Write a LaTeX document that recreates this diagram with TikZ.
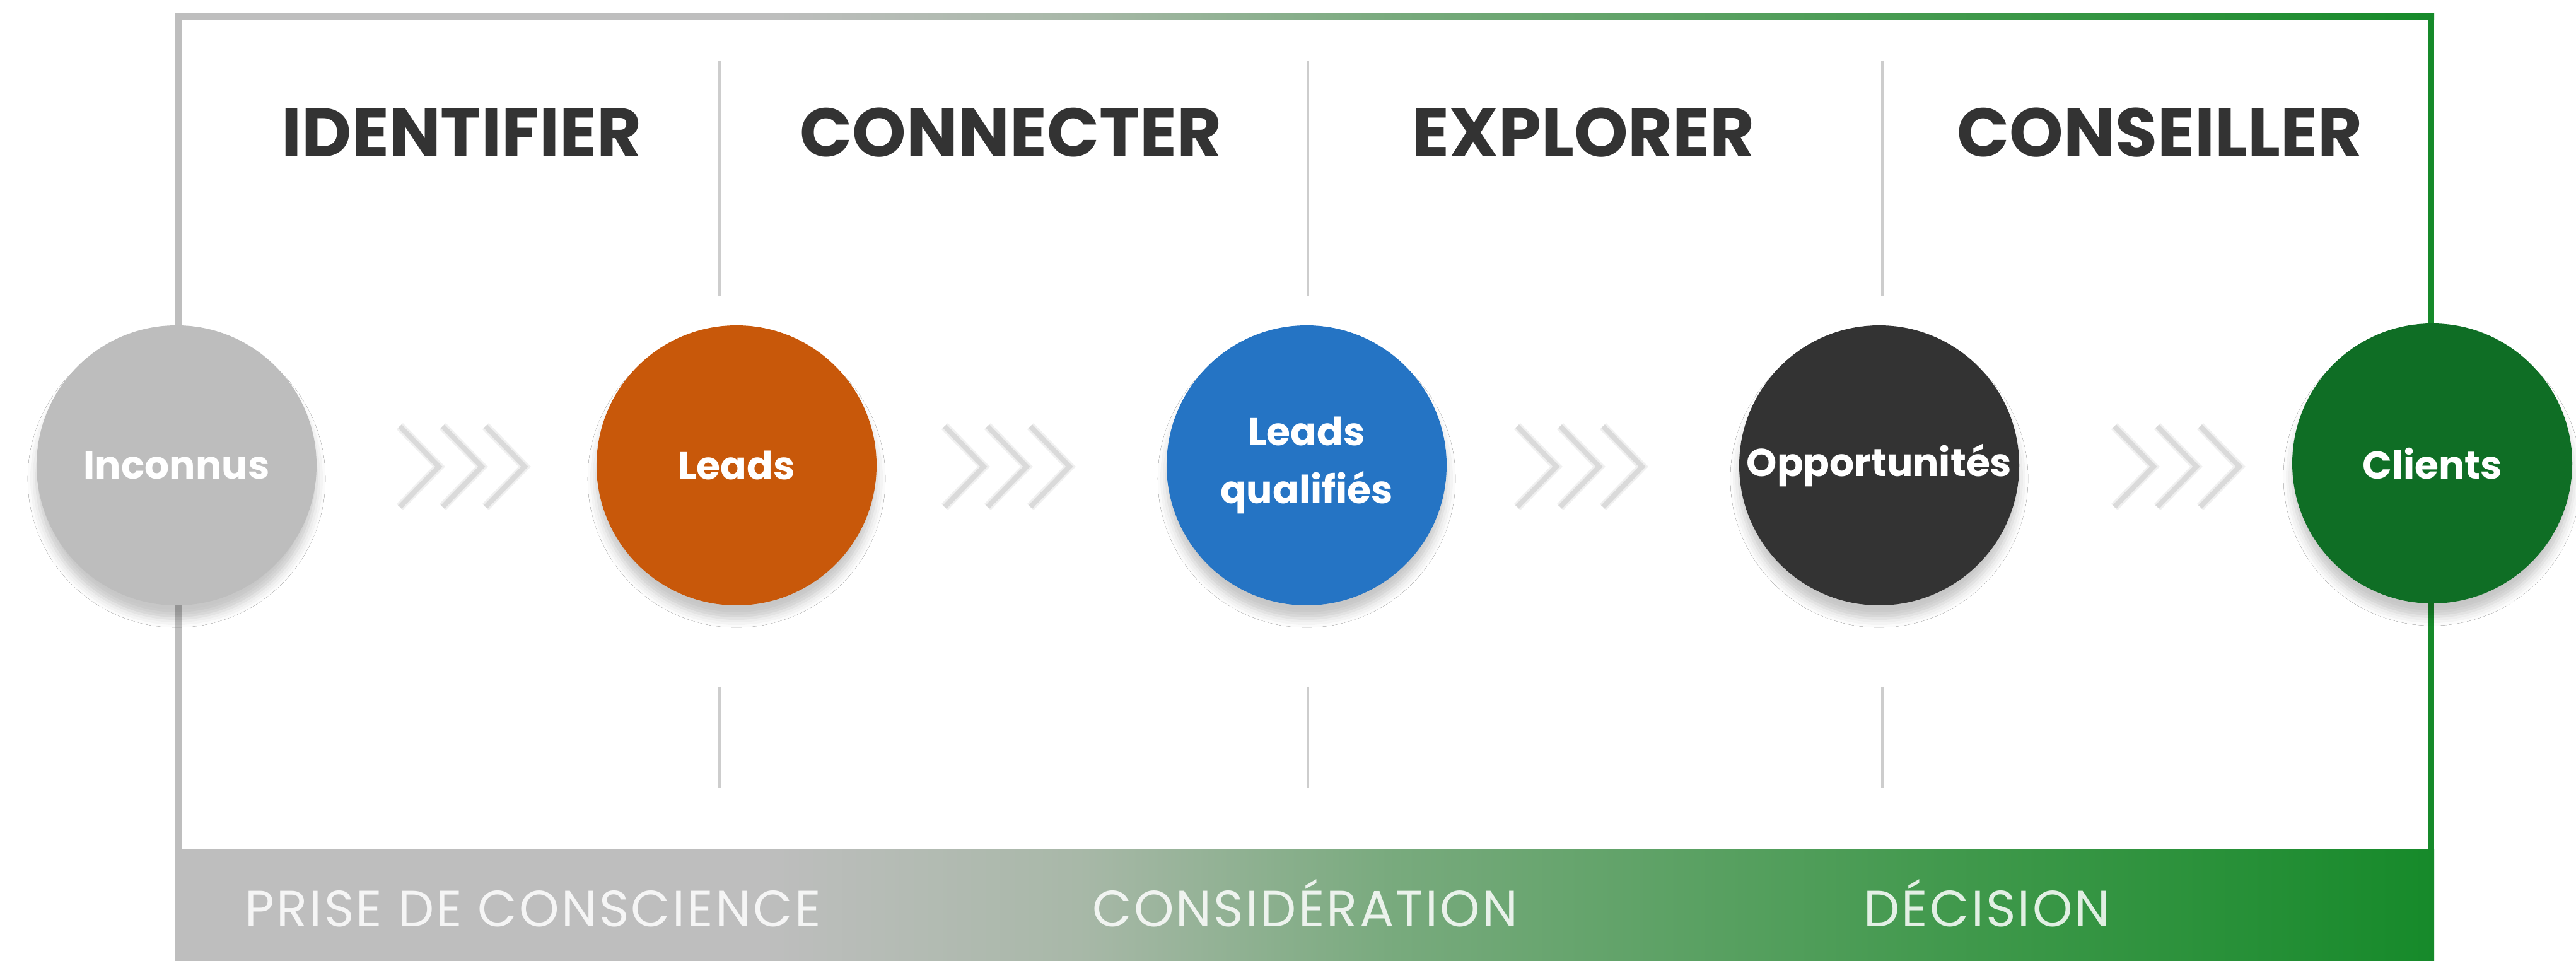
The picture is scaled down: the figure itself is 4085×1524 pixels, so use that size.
\documentclass[tikz,border=0pt]{standalone}
\usepackage{fontspec}
\setmainfont{Poppins}
\usetikzlibrary{shadows.blur}

\definecolor{frameGray}{RGB}{190,190,190}
\definecolor{frameGreen}{RGB}{22,138,42}
\definecolor{dividerGray}{RGB}{205,205,205}
\definecolor{chevronGray}{RGB}{218,218,218}
\definecolor{headText}{RGB}{51,51,51}
\definecolor{unknownGray}{RGB}{189,189,189}
\definecolor{leadOrange}{RGB}{200,88,10}
\definecolor{qualBlue}{RGB}{37,116,196}
\definecolor{oppDark}{RGB}{51,51,51}
\definecolor{clientGreen}{RGB}{15,110,37}
\definecolor{fadeA}{RGB}{168,184,168}
\definecolor{fadeB}{RGB}{120,170,125}
\definecolor{fadeC}{RGB}{62,152,74}

\pgfdeclarehorizontalshading{funnel}{100bp}{color(0bp)=(frameGray); color(38bp)=(frameGray);
	color(45bp)=(fadeA); color(52bp)=(fadeB); color(65bp)=(fadeC); color(75bp)=(frameGreen); color(100bp)=(frameGreen)}

\tikzset{
	stage/.style={circle, minimum size=44.4mm, inner sep=0pt, text=white, align=center,
		font=\fontsize{17.5}{26}\selectfont\bfseries,
		blur shadow={shadow xshift=0pt, shadow yshift=-6pt, shadow blur radius=4pt, shadow opacity=22}},
	heading/.style={anchor=base, text=headText, font=\fontsize{31}{36}\selectfont\bfseries},
	phase/.style={anchor=base, text=white, text opacity=.85,
		font=\fontsize{23}{26}\selectfont\addfontfeatures{LetterSpace=4}},
	chevron/.style={draw=chevronGray, line width=0.8mm},
	divider/.style={draw=dividerGray, line width=0.4mm}
}

\begin{document}
\begin{tikzpicture}[x=0.1mm, y=-0.1mm]
		\useasboundingbox (0,0) rectangle (4085,1524);
		\fill[white] (0,0) rectangle (4085,1524);

		\fill[shading=funnel] (278,21) rectangle (3860,32);
		\fill[frameGray] (278,21) rectangle (288,1350);
		\fill[frameGreen] (3850,21) rectangle (3860,1350);
		\fill[shading=funnel] (278,1347) rectangle (3860,1524);

		\foreach \x in {1141,2074,2985} {
			\draw[divider] (\x,96) -- (\x,469);
			\draw[divider] (\x,1089) -- (\x,1250);
		}

		\foreach \c in {733,1597,2505,3452}
			\foreach \d in {-68,0,68} {
				\draw[chevron, draw opacity=.4, line width=1.4mm] ({\c+\d-31},676) -- ({\c+\d+31},740) -- ({\c+\d-31},804);
				\draw[chevron] ({\c+\d-31},676) -- ({\c+\d+31},740) -- ({\c+\d-31},804);
			}

		\node[heading] (identify) at (732,249) {IDENTIFIER};
		\node[heading] (connect) at (1603,249) {CONNECTER};
		\node[heading] (explore) at (2511,249) {EXPLORER};
		\node[heading] (advise) at (3425,249) {CONSEILLER};

		\node[stage, fill=unknownGray] (unknown) at (280,738) {Inconnus};
		\node[stage, fill=leadOrange] (leads) at (1168,738) {Leads};
		\node[stage, fill=qualBlue] (qualified) at (2072,738) {Leads\\qualifiés};
		\node[stage, fill=oppDark] (opportunity) at (2980,738) {Opportunités};
		\node[stage, fill=clientGreen] (clients) at (3857,735) {Clients};

		\node[phase] (aware) at (845,1470) {PRISE DE CONSCIENCE};
		\node[phase] (consider) at (2070,1470) {CONSIDÉRATION};
		\node[phase] (decide) at (3151,1470) {DÉCISION};
	\end{tikzpicture}
\end{document}
